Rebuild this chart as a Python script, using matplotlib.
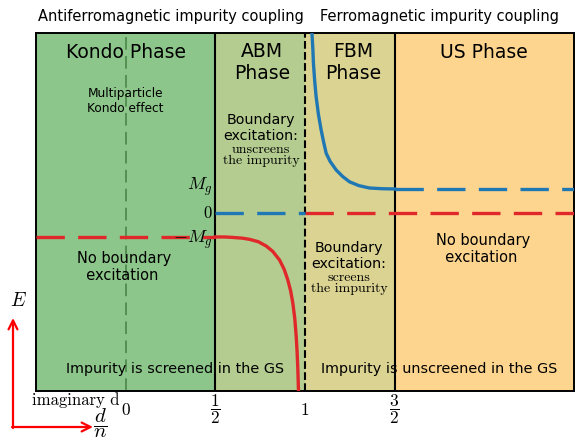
import numpy as np
import matplotlib.pyplot as plt

# phase boundaries (d/n) and colours
phase_edges = [-0.5, 0.5, 1.0, 1.5, 2.5]
phase_colors = ["#8dc68a", "#b4cc8f", "#dbd392", "#fdd58f"]
phase_names = ["Kondo Phase", "ABM\nPhase", "FBM\nPhase", "US Phase"]

Mg = 1.0

# boundary state energies
blue_x = [1.038, 1.044, 1.047, 1.054, 1.062, 1.075, 1.090, 1.104, 1.118, 1.14,
          1.174, 1.21, 1.248, 1.30, 1.359, 1.43, 1.50]
blue_y = [7.6, 6.8, 6.24, 5.5, 4.85, 4.1, 3.46, 2.95, 2.49, 2.15,
          1.79, 1.52, 1.30, 1.14, 1.04, 1.01, 1.0]

red_x = [0.5, 0.55, 0.598, 0.65, 0.691, 0.74, 0.784, 0.82, 0.858, 0.884,
         0.904, 0.92, 0.932, 0.943, 0.951, 0.956, 0.960, 0.964, 0.966]
red_y = [-1.0, -1.0, -1.02, -1.05, -1.1, -1.2, -1.38, -1.6, -1.96, -2.35,
         -2.79, -3.25, -3.75, -4.4, -5.15, -5.8, -6.5, -7.5, -8.0]

xtick_pos = [0, 0.5, 1, 1.5]
xtick_labels = [r"$0$", r"$\dfrac{1}{2}$", r"$1$", r"$\dfrac{3}{2}$"]

blue = "#1f77b4"
red = "#e0282a"
plt.rcParams["mathtext.fontset"] = "cm"
serif = "cmr10"

fig = plt.figure(figsize=(5.75, 4.41), dpi=100)
ax = fig.add_axes([36 / 575, 50 / 441, 538 / 575, 358 / 441])

for i in range(4):
    ax.axvspan(phase_edges[i], phase_edges[i + 1], color=phase_colors[i], lw=0, zorder=0)

ax.axvline(0.5, color="black", lw=1.5, zorder=2)
ax.axvline(1.5, color="black", lw=1.5, zorder=2)
ax.axvline(1.0, color="black", lw=1.5, linestyle="--", zorder=2)
ax.axvline(0.0, color="#4e8c4c", lw=1.3, linestyle="--", dashes=(7, 3.5), zorder=1)

dash = (8.5, 4)
ax.plot([-0.5, 0.5], [-Mg, -Mg], color=red, lw=2.4, dashes=dash, zorder=3)
ax.plot(red_x, red_y, color=red, lw=2.4, zorder=3)
ax.plot([1.0, 2.5], [0, 0], color=red, lw=2.4, dashes=dash, zorder=3)
ax.plot([0.5, 1.0], [0, 0], color=blue, lw=2.4, dashes=dash, zorder=3)
ax.plot(blue_x, blue_y, color=blue, lw=2.4, zorder=3)
ax.plot([1.5, 2.5], [Mg, Mg], color=blue, lw=2.4, dashes=dash, zorder=3)

ax.set_xlim(-0.5, 2.5)
ax.set_ylim(-7.42, 7.5)
ax.set_yticks([])
ax.set_xticks(xtick_pos)
ax.set_xticklabels(xtick_labels, fontsize=12.5)
ax.tick_params(axis="x", length=0, pad=13.5)
for lab in ax.get_xticklabels():
    lab.set_verticalalignment("center")
for s in ax.spines.values():
    s.set_linewidth(1.4)

# phase titles
ax.text(0.0, 6.67, phase_names[0], ha="center", va="center", fontsize=13.5)
ax.text(0.76, 6.25, phase_names[1], ha="center", va="center", fontsize=13.5, multialignment="center")
ax.text(1.27, 6.25, phase_names[2], ha="center", va="center", fontsize=13.5, multialignment="center")
ax.text(2.0, 6.67, phase_names[3], ha="center", va="center", fontsize=13.5)

ax.text(0.0, 4.67, "Multiparticle\nKondo effect", ha="center", va="center", fontsize=8.7,
        multialignment="center")

ax.text(0.755, 3.54, "Boundary\nexcitation:", ha="center", va="center", fontsize=10.3,
        multialignment="center")
ax.text(0.755, 2.64, "unscreens", ha="center", va="center", fontsize=10, family=serif)
ax.text(0.755, 2.17, "the impurity", ha="center", va="center", fontsize=10, family=serif)

ax.text(1.245, -1.8, "Boundary\nexcitation:", ha="center", va="center", fontsize=10.3,
        multialignment="center")
ax.text(1.245, -2.71, "screens", ha="center", va="center", fontsize=10, family=serif)
ax.text(1.245, -3.17, "the impurity", ha="center", va="center", fontsize=10, family=serif)

ax.text(-0.273, -2.25, "No boundary\n  excitation", ha="left", va="center", fontsize=10.5)
ax.text(1.733, -1.5, "No boundary\n  excitation", ha="left", va="center", fontsize=10.5)

ax.text(0.276, -6.5, "Impurity is screened in the GS", ha="center", va="center", fontsize=10.4)
ax.text(1.75, -6.5, "Impurity is unscreened in the GS", ha="center", va="center", fontsize=10.4)

# energy markers next to the ABM boundary
ax.text(0.485, 1.08, r"$M_g$", ha="right", va="center", fontsize=13)
ax.text(0.485, 0.0, r"$0$", ha="right", va="center", fontsize=12)
ax.text(0.485, -1.12, r"$-M_g$", ha="right", va="center", fontsize=13)

# coupling headers above the axes
fig.text(171 / 575, 1 - 17 / 441, "Antiferromagnetic impurity coupling", ha="center",
         va="center", fontsize=10.5)
fig.text(440 / 575, 1 - 17 / 441, "Ferromagnetic impurity coupling", ha="center",
         va="center", fontsize=10.5)

fig.text(76 / 575, 1 - 400 / 441, "imaginary d", ha="center", va="center",
         fontsize=12, family=serif)

# axis arrows
ax.annotate("", xy=(13, 441 - 318), xytext=(13, 441 - 428), xycoords="figure pixels",
            textcoords="figure pixels",
            arrowprops=dict(arrowstyle="->", color="red", lw=1.6, shrinkA=0, shrinkB=0,
                            mutation_scale=16))
ax.annotate("", xy=(93, 441 - 427), xytext=(12, 441 - 427), xycoords="figure pixels",
            textcoords="figure pixels",
            arrowprops=dict(arrowstyle="->", color="red", lw=1.6, shrinkA=0, shrinkB=0,
                            mutation_scale=16))
fig.text(18 / 575, 1 - 300 / 441, r"$E$", ha="center", va="center", fontsize=14)
fig.text(100 / 575, 1 - 423 / 441, r"$\dfrac{d}{n}$", ha="center", va="center", fontsize=15)

fig.savefig("out.png", dpi=100)
